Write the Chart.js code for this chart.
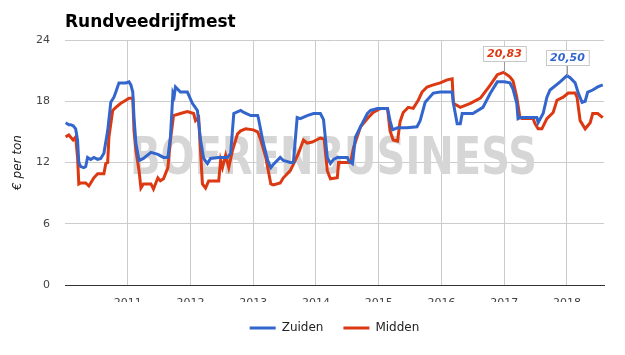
<!DOCTYPE html>
<html>
<head>
<meta charset="utf-8">
<script src="https://cdn.jsdelivr.net/npm/chart.js@4.4.1/dist/chart.umd.min.js"></script>
<style>
  html, body { margin: 0; padding: 0; background: #fff; }
  #mest { display: block; }
</style>
</head>
<body>
<canvas id="mest" width="625" height="355"></canvas>
<script>
// Data (decimal year, € per ton)
const jaren = [2011, 2012, 2013, 2014, 2015, 2016, 2017, 2018];
const yTicks = [0, 6, 12, 18, 24];

const zuidenX = [2010.01, 2010.06, 2010.09, 2010.13, 2010.17, 2010.20, 2010.22, 2010.25, 2010.30, 2010.33,
  2010.36, 2010.41, 2010.46, 2010.52, 2010.57, 2010.62, 2010.68, 2010.73, 2010.78, 2010.81,
  2010.86, 2010.89, 2010.97, 2011.02, 2011.05, 2011.08, 2011.10, 2011.13, 2011.18, 2011.25,
  2011.37, 2011.48, 2011.57, 2011.64, 2011.68, 2011.72, 2011.74, 2011.76, 2011.84, 2011.95,
  2012.03, 2012.11, 2012.16, 2012.21, 2012.27, 2012.32, 2012.45, 2012.59, 2012.64, 2012.69,
  2012.80, 2012.85, 2012.96, 2013.07, 2013.08, 2013.15, 2013.23, 2013.28, 2013.32, 2013.43,
  2013.48, 2013.59, 2013.64, 2013.70, 2013.75, 2013.86, 2013.96, 2014.07, 2014.12, 2014.18,
  2014.23, 2014.28, 2014.34, 2014.50, 2014.52, 2014.58, 2014.63, 2014.71, 2014.82, 2014.87,
  2014.98, 2015.14, 2015.18, 2015.22, 2015.30, 2015.45, 2015.61, 2015.66, 2015.74, 2015.87,
  2015.98, 2016.17, 2016.19, 2016.25, 2016.30, 2016.33, 2016.50, 2016.66, 2016.78, 2016.89,
  2017.00, 2017.09, 2017.14, 2017.20, 2017.22, 2017.25, 2017.52, 2017.54, 2017.62, 2017.68,
  2017.73, 2017.89, 2018.00, 2018.05, 2018.13, 2018.18, 2018.24, 2018.29, 2018.33, 2018.41,
  2018.49, 2018.57];
const zuidenY = [15.9, 15.7, 15.7, 15.6, 15.3, 14.2, 12.0, 11.6, 11.5, 11.6,
  12.5, 12.3, 12.5, 12.3, 12.4, 12.9, 15.1, 17.9, 18.4, 18.9,
  19.8, 19.8, 19.8, 19.9, 19.6, 18.9, 16.4, 13.9, 12.2, 12.4,
  13.0, 12.8, 12.5, 12.5, 14.5, 18.8, 18.5, 19.4, 18.9, 18.9,
  17.8, 17.1, 14.2, 12.4, 11.9, 12.4, 12.5, 12.5, 12.9, 16.8,
  17.1, 16.9, 16.6, 16.6, 16.4, 14.2, 12.2, 11.5, 11.8, 12.5,
  12.2, 12.0, 12.0, 16.4, 16.3, 16.6, 16.8, 16.8, 16.2, 12.5,
  11.9, 12.3, 12.5, 12.5, 12.2, 11.9, 14.5, 15.5, 16.8, 17.1,
  17.3, 17.3, 16.1, 15.2, 15.4, 15.4, 15.5, 16.1, 17.9, 18.8,
  18.9, 18.9, 17.8, 15.8, 15.8, 16.8, 16.8, 17.4, 18.8, 19.9,
  19.9, 19.8, 19.2, 17.8, 16.3, 16.4, 16.4, 15.9, 16.8, 18.4,
  19.1, 19.9, 20.5, 20.3, 19.8, 18.8, 17.9, 18.0, 18.9, 19.1,
  19.4, 19.6];

const middenX = [2010.01, 2010.06, 2010.13, 2010.17, 2010.20, 2010.22, 2010.25, 2010.33, 2010.38, 2010.41,
  2010.46, 2010.52, 2010.62, 2010.65, 2010.68, 2010.70, 2010.76, 2010.81, 2010.89, 2010.97,
  2011.02, 2011.08, 2011.10, 2011.13, 2011.18, 2011.21, 2011.25, 2011.37, 2011.41, 2011.48,
  2011.52, 2011.57, 2011.64, 2011.68, 2011.73, 2011.84, 2011.95, 2012.05, 2012.08, 2012.13,
  2012.19, 2012.24, 2012.29, 2012.45, 2012.48, 2012.51, 2012.56, 2012.61, 2012.67, 2012.75,
  2012.80, 2012.88, 2013.00, 2013.07, 2013.12, 2013.20, 2013.28, 2013.32, 2013.43, 2013.48,
  2013.59, 2013.67, 2013.72, 2013.80, 2013.86, 2013.94, 2014.07, 2014.13, 2014.18, 2014.23,
  2014.34, 2014.36, 2014.55, 2014.60, 2014.71, 2014.82, 2014.91, 2015.03, 2015.14, 2015.18,
  2015.23, 2015.30, 2015.34, 2015.39, 2015.47, 2015.55, 2015.63, 2015.69, 2015.77, 2015.87,
  2015.98, 2016.09, 2016.17, 2016.19, 2016.30, 2016.46, 2016.62, 2016.78, 2016.89, 2016.99,
  2017.09, 2017.14, 2017.20, 2017.25, 2017.28, 2017.46, 2017.49, 2017.54, 2017.60, 2017.68,
  2017.78, 2017.84, 2017.94, 2018.02, 2018.13, 2018.16, 2018.21, 2018.29, 2018.37, 2018.41,
  2018.49, 2018.57];
const middenY = [14.5, 14.7, 14.2, 14.5, 12.5, 9.9, 10.0, 10.0, 9.7, 10.0,
  10.5, 10.9, 10.9, 11.9, 12.0, 14.5, 17.1, 17.4, 17.8, 18.1,
  18.3, 18.3, 15.1, 13.2, 11.2, 9.5, 9.9, 9.9, 9.4, 10.5,
  10.2, 10.4, 11.5, 14.2, 16.6, 16.8, 17.0, 16.8, 16.1, 16.4,
  9.9, 9.5, 10.2, 10.2, 12.2, 11.5, 12.7, 11.5, 13.2, 14.8,
  15.1, 15.3, 15.2, 15.0, 14.2, 12.5, 9.9, 9.8, 10.0, 10.5,
  11.2, 12.2, 12.9, 14.2, 13.9, 14.0, 14.4, 14.3, 11.2, 10.4,
  10.5, 12.0, 12.0, 13.5, 15.5, 16.3, 16.9, 17.3, 17.3, 15.1,
  14.2, 14.1, 16.0, 16.9, 17.4, 17.3, 18.1, 18.9, 19.4, 19.6,
  19.8, 20.1, 20.2, 17.8, 17.4, 17.8, 18.3, 19.6, 20.6, 20.83,
  20.4, 20.0, 18.4, 16.4, 16.3, 16.3, 15.8, 15.3, 15.3, 16.3,
  16.9, 18.1, 18.4, 18.8, 18.8, 18.4, 16.1, 15.3, 15.9, 16.8,
  16.8, 16.4];

// piek-labels
const piekLabels = ['20,83', '20,50'];
const piekX = [2016.99, 2018.00];
const piekY = [20.83, 20.50];
const piekReeks = [1, 0];

const BLAUW = '#3366cc';
const ROOD = '#dc3912';
const FONT = "'DejaVu Sans', sans-serif";

const toPoints = (xs, ys) => xs.map((x, i) => ({ x: x, y: ys[i] }));

// titel + watermerk + piek-labels
const extraPlugin = {
    id: 'extra',
    beforeDatasetsDraw(chart) {
        const { ctx, chartArea } = chart;
        ctx.save();
        ctx.fillStyle = '#d6d6d6';
        ctx.font = 'bold 52px ' + FONT;
        ctx.textBaseline = 'middle';
        ctx.textAlign = 'center';
        const cx = (chartArea.left + chartArea.right) / 2 - 1;
        ctx.translate(cx, 160);
        ctx.scale(0.77, 1);
        ctx.fillText('BOERENBUSINESS', 0, 0);
        ctx.restore();
    },
    afterDraw(chart) {
        const { ctx, chartArea, scales } = chart;
        ctx.save();
        ctx.fillStyle = '#000';
        ctx.font = 'bold 17px ' + FONT;
        ctx.textBaseline = 'alphabetic';
        ctx.textAlign = 'left';
        ctx.fillText('Rundveedrijfmest', chartArea.left, 27);

        ctx.font = 'italic bold 11px ' + FONT;
        piekLabels.forEach((txt, i) => {
            const px = Math.round(scales.x.getPixelForValue(piekX[i])) + 0.5;
            const py = scales.y.getPixelForValue(piekY[i]);
            const w = ctx.measureText(txt).width + 8;
            const h = 15;
            const bottom = Math.round(py - 11) + 0.5;
            ctx.strokeStyle = '#999';
            ctx.lineWidth = 1;
            ctx.beginPath();
            ctx.moveTo(px, bottom);
            ctx.lineTo(px, py);
            ctx.stroke();
            ctx.fillStyle = '#fff';
            ctx.strokeStyle = '#c8c8c8';
            ctx.fillRect(Math.round(px - w / 2), bottom - h, w, h);
            ctx.strokeRect(Math.round(px - w / 2) + 0.5, bottom - h, w, h);
            ctx.fillStyle = piekReeks[i] === 1 ? ROOD : BLAUW;
            ctx.textAlign = 'center';
            ctx.textBaseline = 'middle';
            ctx.fillText(txt, px, bottom - h / 2 + 0.5);
        });
        ctx.restore();
    }
};

new Chart(document.getElementById('mest'), {
    type: 'line',
    data: {
        datasets: [
            {
                label: 'Zuiden',
                data: toPoints(zuidenX, zuidenY),
                borderColor: BLAUW,
                backgroundColor: BLAUW,
                borderWidth: 3,
                pointRadius: 0,
                tension: 0
            },
            {
                label: 'Midden',
                data: toPoints(middenX, middenY),
                borderColor: ROOD,
                backgroundColor: ROOD,
                borderWidth: 3,
                pointRadius: 0,
                tension: 0
            }
        ]
    },
    options: {
        responsive: false,
        animation: false,
        layout: { padding: { top: 40, right: 21, left: 0, bottom: 11 } },
        plugins: {
            tooltip: { enabled: false },
            legend: {
                position: 'bottom',
                fullSize: false,
                labels: {
                    boxWidth: 26,
                    boxHeight: 3,
                    padding: 20,
                    color: '#222',
                    font: { family: FONT, size: 12 },
                    generateLabels(chart) {
                        return Chart.defaults.plugins.legend.labels.generateLabels(chart)
                            .map(l => Object.assign(l, { lineWidth: 0 }));
                    }
                }
            }
        },
        scales: {
            x: {
                type: 'linear',
                min: 2010.0,
                max: 2018.59,
                afterBuildTicks: (axis) => { axis.ticks = jaren.map(v => ({ value: v })); },
                afterFit: (axis) => { axis.height = 17; },
                grid: { color: '#cccccc', drawTicks: false },
                border: { display: true, color: '#333', width: 1 },
                ticks: {
                    padding: 12,
                    color: '#444',
                    font: { family: FONT, size: 11 },
                    callback: (v) => String(v)
                }
            },
            y: {
                min: 0,
                max: 24,
                afterBuildTicks: (axis) => { axis.ticks = yTicks.map(v => ({ value: v })); },
                afterFit: (axis) => { axis.width = 65; },
                grid: { color: '#cccccc', drawTicks: false },
                border: { display: false },
                ticks: {
                    padding: 15,
                    color: '#444',
                    font: { family: FONT, size: 11 }
                },
                title: {
                    display: true,
                    text: '€ per ton',
                    color: '#222',
                    font: { family: FONT, size: 12, style: 'italic' },
                    padding: { top: 11, bottom: 0 }
                }
            }
        }
    },
    plugins: [extraPlugin]
});
</script>
</body>
</html>
